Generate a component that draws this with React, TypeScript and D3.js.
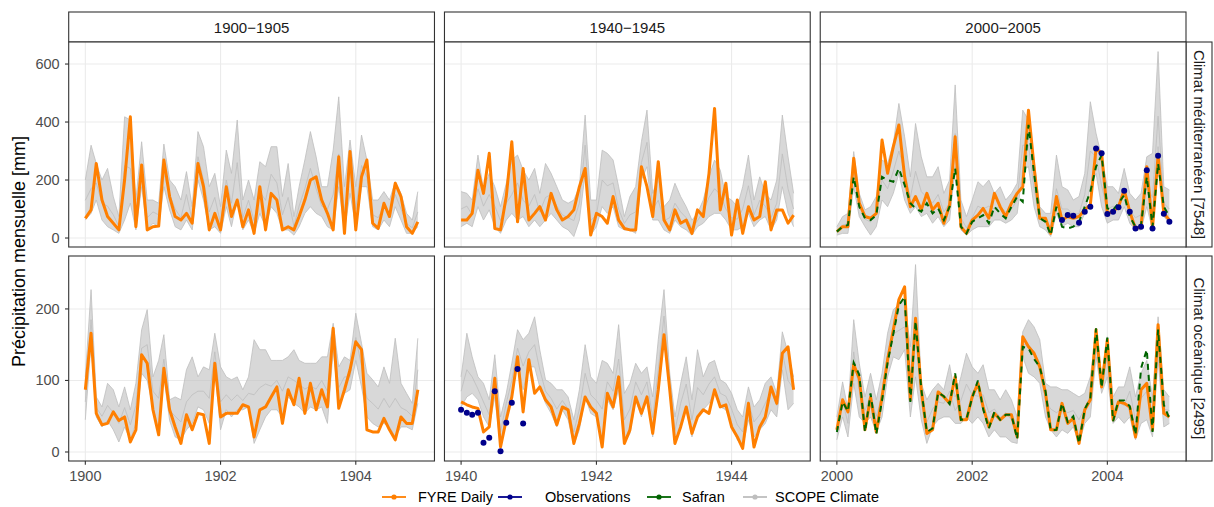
import * as d3 from "d3";

// facets
const startYears = [1900, 1940, 2000];
const periodLabels = ["1900−1905", "1940−1945", "2000−2005"];
const climateLabels = ["Climat méditerranéen [7548]", "Climat océanique [2495]"];
const yTicksTop = [0, 200, 400, 600];
const yTicksBottom = [0, 100, 200];
const legendLabels = ["FYRE Daily", "Observations", "Safran", "SCOPE Climate"];

// monthly values, Jan of first year -> Dec of fifth year
const fyreMed1900 = [68,97,257,131,74,51,28,200,418,39,252,28,39,41,269,143,74,62,85,51,257,177,28,85,28,177,74,131,39,97,16,177,28,154,131,28,39,28,74,131,200,211,131,85,28,280,16,298,28,211,269,51,33,120,74,189,143,39,16,56];
const scopeHiMed1900 = [200,320,257,200,240,143,74,418,407,131,332,131,131,120,324,200,177,131,229,108,367,315,177,223,108,303,223,407,131,200,131,263,246,315,315,143,257,74,177,269,367,280,177,177,303,487,177,338,177,355,269,131,131,160,131,194,154,85,62,160];
const scopeMidMed1900 = [130,170,190,120,110,80,40,250,240,80,230,70,90,80,220,150,100,70,150,60,280,200,90,140,50,200,120,260,70,130,60,160,130,220,190,80,140,40,110,170,240,170,110,100,150,290,90,230,100,250,210,80,70,110,80,150,100,50,35,90];
const scopeLoMed1900 = [62,85,131,62,39,28,16,62,120,28,177,28,51,39,177,97,39,28,62,28,200,131,28,39,16,108,39,131,28,62,16,85,39,108,85,28,28,10,39,85,108,85,74,39,28,177,28,154,39,177,177,39,28,62,39,108,62,16,16,39];

const fyreMed1940 = [62,62,85,234,154,292,33,28,143,332,56,240,62,85,108,62,154,97,62,74,97,177,240,10,85,74,51,143,62,33,28,28,246,177,74,263,62,28,97,51,62,16,97,74,223,447,97,189,10,131,16,108,62,74,194,28,97,97,51,79];
const scopeHiMed1940 = [160,154,131,286,166,223,177,108,189,269,286,234,200,240,154,257,223,177,131,120,131,177,424,131,131,303,292,269,177,74,143,177,332,441,154,211,108,131,189,143,108,62,85,131,211,269,234,143,131,108,177,286,131,211,154,131,200,424,280,154];
const scopeMidMed1940 = [100,110,80,170,110,150,110,60,120,150,190,130,110,150,90,140,150,110,80,70,60,120,320,60,80,200,180,190,100,50,80,90,260,330,100,130,60,70,120,90,70,35,60,90,140,170,150,100,70,65,100,180,80,130,110,70,120,290,170,100];
const scopeLoMed1940 = [39,51,39,108,62,97,39,16,62,85,62,74,39,62,39,62,85,62,39,28,5,62,223,10,39,108,85,108,39,28,28,16,200,246,62,62,28,16,62,39,28,10,39,51,74,85,85,62,28,28,39,85,39,62,74,28,62,177,85,39];

const fyreMed2000 = [22,39,39,275,120,74,68,85,338,223,315,390,211,108,143,97,154,97,120,51,114,349,39,16,62,79,102,68,154,108,74,120,154,177,441,246,68,68,16,143,62,74,68,74,97,114,309,292,85,91,108,166,91,33,39,246,33,286,85,62];
const safranMed2000 = [22,39,45,211,108,68,62,79,211,200,194,240,183,120,102,91,120,85,102,62,108,240,39,16,56,68,79,51,108,85,68,108,143,125,390,223,68,56,10,108,39,33,39,56,108,160,246,286,102,97,120,148,74,39,45,211,39,257,108,74];
const obsMed2000 = [62,79,77,53,91,108,309,292,83,91,106,163,91,33,39,234,33,284,84,56]; // from month 40
const scopeHiMed2000 = [39,74,85,298,154,97,108,143,269,257,326,464,349,211,395,280,211,211,246,154,200,528,131,74,131,194,177,200,154,177,131,154,189,441,407,269,108,85,85,286,177,166,131,143,223,470,361,280,177,177,154,240,154,131,154,280,292,643,177,166];
const scopeMidMed2000 = [25,45,50,230,110,65,55,90,200,170,230,300,230,140,230,160,140,120,150,90,120,360,70,35,70,110,100,110,100,110,90,100,130,320,320,170,70,55,40,170,100,100,80,85,150,300,280,180,100,110,100,160,95,70,80,180,140,420,120,100];
const scopeLoMed2000 = [10,16,16,177,74,39,10,39,131,108,154,223,131,85,108,74,85,51,74,39,62,246,28,10,28,39,39,39,62,62,51,62,85,234,246,108,39,28,5,85,39,51,39,39,85,177,223,108,51,62,62,108,51,28,28,108,28,315,74,51];

const fyreOce1900 = [87,166,54,38,40,56,44,49,14,31,136,124,59,24,117,59,35,12,52,31,54,52,12,124,49,54,54,54,66,63,21,59,63,77,91,40,87,66,103,54,96,59,87,63,173,61,87,115,154,143,31,28,28,47,31,17,49,40,40,87];
const scopeHiOce1900 = [105,227,77,63,96,87,63,91,59,96,171,199,105,128,164,73,77,73,115,133,105,119,115,166,119,105,101,105,87,105,157,143,143,128,128,128,133,143,128,124,124,124,133,133,180,119,133,128,194,152,110,101,91,119,96,159,96,82,68,159];
const scopeMidOce1900 = [70,185,62,50,65,55,40,62,38,65,145,150,85,75,130,58,50,42,70,80,85,85,75,140,70,80,72,80,72,82,80,90,95,92,100,85,105,100,95,88,92,88,100,85,160,90,105,105,160,120,75,68,60,75,62,75,62,58,50,115];
const scopeLoOce1900 = [45,152,49,35,44,31,14,35,17,40,110,100,63,28,105,44,21,17,31,40,63,59,40,115,31,59,49,59,59,63,12,31,49,59,59,49,77,68,63,54,63,59,63,40,143,68,82,87,128,91,49,40,35,40,35,21,35,35,31,68];

const fyreOce1940 = [70,66,63,61,28,35,103,7,45,77,133,56,129,82,91,73,63,38,63,59,12,40,77,63,54,7,82,63,105,12,31,77,54,77,26,87,164,87,12,35,63,26,49,59,54,87,63,66,35,21,5,68,7,35,49,91,68,138,147,87];
const obsOce1940 = [59,55,52,55,13,20,85,1,41,69,116,40]; // from month 0
const scopeHiOce1940 = [105,166,133,105,96,73,136,49,82,124,171,157,166,189,143,101,96,87,87,77,45,87,150,105,96,128,124,110,178,82,96,124,110,119,77,157,227,110,49,96,133,73,143,105,124,128,101,96,82,59,49,91,63,73,96,105,82,168,138,105];
const scopeMidOce1940 = [85,115,105,88,70,52,105,28,68,100,145,120,140,150,115,85,75,60,72,60,28,60,110,80,72,60,98,85,130,45,60,98,80,98,48,115,190,95,30,68,95,45,90,80,95,105,82,78,60,38,28,70,42,52,68,85,65,140,100,88];
const scopeLoOce1940 = [63,77,82,73,49,35,77,7,54,82,124,87,119,119,91,68,54,35,59,45,10,31,77,54,49,12,73,59,87,12,26,73,49,77,21,82,157,82,10,40,59,21,49,59,68,82,63,59,40,17,7,45,21,31,40,59,49,115,59,68];

const fyreOce2000 = [31,73,56,122,103,31,77,28,77,129,171,213,231,73,187,87,26,31,84,77,68,105,45,45,77,96,63,35,54,45,52,52,21,161,147,138,119,82,31,31,68,40,47,12,59,73,171,91,157,45,70,68,63,21,87,96,31,178,54,49];
const safranOce2000 = [28,70,57,125,108,28,82,25,72,125,165,205,217,70,183,88,28,33,83,78,67,110,45,46,76,100,60,33,56,45,52,52,18,147,145,130,119,85,30,31,68,42,50,12,60,75,173,90,160,43,72,72,64,24,117,143,28,171,66,47];
const scopeHiOce2000 = [49,98,59,185,124,77,110,73,110,166,199,206,213,147,262,96,73,87,96,87,122,77,105,138,119,110,122,87,87,73,87,73,49,168,185,175,157,96,91,91,87,87,82,77,82,105,166,105,161,77,91,91,119,77,110,128,77,189,87,77];
const scopeMidOce2000 = [32,72,40,140,85,58,80,50,80,135,165,170,175,100,180,70,42,60,70,68,85,58,72,95,80,78,80,55,60,48,55,45,30,150,150,140,125,72,60,55,60,55,58,45,62,78,150,95,135,58,70,65,85,45,75,85,48,160,60,58];
const scopeLoOce2000 = [17,49,21,96,49,40,49,28,49,105,133,129,143,49,105,45,12,35,45,49,49,40,40,49,40,49,40,21,31,21,21,14,12,133,110,105,96,49,31,21,31,26,35,12,40,49,133,82,105,40,49,40,49,17,40,45,21,129,35,40];

type Panel = {
  fyre: number[];
  hi: number[];
  mid: number[];
  lo: number[];
  safran?: number[];
  obs?: number[];
  obsStart?: number;
};

const panels: Panel[][] = [
  [
    { fyre: fyreMed1900, hi: scopeHiMed1900, mid: scopeMidMed1900, lo: scopeLoMed1900 },
    { fyre: fyreMed1940, hi: scopeHiMed1940, mid: scopeMidMed1940, lo: scopeLoMed1940 },
    { fyre: fyreMed2000, hi: scopeHiMed2000, mid: scopeMidMed2000, lo: scopeLoMed2000, safran: safranMed2000, obs: obsMed2000, obsStart: 40 },
  ],
  [
    { fyre: fyreOce1900, hi: scopeHiOce1900, mid: scopeMidOce1900, lo: scopeLoOce1900 },
    { fyre: fyreOce1940, hi: scopeHiOce1940, mid: scopeMidOce1940, lo: scopeLoOce1940, obs: obsOce1940, obsStart: 0 },
    { fyre: fyreOce2000, hi: scopeHiOce2000, mid: scopeMidOce2000, lo: scopeLoOce2000, safran: safranOce2000 },
  ],
];

const ORANGE = "#FF7F00";
const NAVY = "#00008B";
const GREEN = "#006400";
const GREY = "#BEBEBE";
const FONT = "'Liberation Sans', Arial, Helvetica, sans-serif";

const W = 1214;
const H = 507;
const plotLeft = 68.7;
const plotRight = 1186;
const gapX = 10;
const panelW = (plotRight - plotLeft - 2 * gapX) / 3;
const rowTops = [42, 256];
const panelH = 205;

const yScales = [
  d3.scaleLinear().domain([-31, 676]).range([rowTops[0] + panelH, rowTops[0]]),
  d3.scaleLinear().domain([-12.6, 274]).range([rowTops[1] + panelH, rowTops[1]]),
];
const yTicks = [yTicksTop, yTicksBottom];

function monthDate(y0: number, i: number) {
  return new Date(Date.UTC(y0 + Math.floor(i / 12), i % 12, 1));
}

function xScaleFor(col: number) {
  const y0 = startYears[col];
  const first = monthDate(y0, 0).getTime();
  const last = monthDate(y0, 59).getTime();
  const pad = (last - first) * 0.05;
  const left = plotLeft + col * (panelW + gapX);
  return d3
    .scaleUtc()
    .domain([new Date(first - pad), new Date(last + pad)])
    .range([left, left + panelW]);
}

function PanelView({ row, col }: { row: number; col: number }) {
  const p = panels[row][col];
  const x = xScaleFor(col);
  const y = yScales[row];
  const y0 = startYears[col];
  const left = plotLeft + col * (panelW + gapX);
  const top = rowTops[row];
  const xTicks = x.ticks(d3.utcYear.every(2)!);

  const line = d3
    .line<number>()
    .x((_, i) => x(monthDate(y0, i)))
    .y((d) => y(d));
  // envelope of the SCOPE members
  const band = d3
    .area<number>()
    .x((_, i) => x(monthDate(y0, i)))
    .y0((_, i) => y(p.lo[i]))
    .y1((d) => y(d));

  const clipId = `clip-${row}-${col}`;
  return (
    <g>
      <clipPath id={clipId}>
        <rect x={left} y={top} width={panelW} height={panelH} />
      </clipPath>
      <rect x={left} y={top} width={panelW} height={panelH} fill="white" />
      {yTicks[row].map((t) => (
        <line key={"gy" + t} x1={left} x2={left + panelW} y1={y(t)} y2={y(t)} stroke="#EBEBEB" strokeWidth={1.1} />
      ))}
      {xTicks.map((t) => (
        <line key={"gx" + t.getTime()} x1={x(t)} x2={x(t)} y1={top} y2={top + panelH} stroke="#EBEBEB" strokeWidth={1.1} />
      ))}
      <g clipPath={`url(#${clipId})`}>
        <path d={band(p.hi) ?? ""} fill={GREY} fillOpacity={0.6} stroke="none" />
        {[p.hi, p.mid, p.lo].map((s, k) => (
          <path key={k} d={line(s) ?? ""} fill="none" stroke={GREY} strokeWidth={0.8} />
        ))}
        <path d={line(p.fyre) ?? ""} fill="none" stroke={ORANGE} strokeWidth={3} strokeLinejoin="round" />
        {p.safran && (
          <path d={line(p.safran) ?? ""} fill="none" stroke={GREEN} strokeWidth={2} strokeDasharray="6,5" />
        )}
        {p.obs &&
          p.obs.map((v, k) => (
            <circle key={k} cx={x(monthDate(y0, (p.obsStart ?? 0) + k))} cy={y(v)} r={3} fill={NAVY} />
          ))}
      </g>
      <rect x={left} y={top} width={panelW} height={panelH} fill="none" stroke="#333333" strokeWidth={1.1} />
      {row === 1 &&
        xTicks.map((t) => (
          <g key={"xt" + t.getTime()}>
            <line x1={x(t)} x2={x(t)} y1={top + panelH} y2={top + panelH + 3.7} stroke="#333333" strokeWidth={1.1} />
            <text x={x(t)} y={top + panelH + 15} textAnchor="middle" dominantBaseline="central" fontSize={14.5} fill="#4D4D4D">
              {d3.utcFormat("%Y")(t)}
            </text>
          </g>
        ))}
      {col === 0 &&
        yTicks[row].map((t) => (
          <g key={"yt" + t}>
            <line x1={left - 3.7} x2={left} y1={y(t)} y2={y(t)} stroke="#333333" strokeWidth={1.1} />
            <text x={left - 9} y={y(t)} textAnchor="end" dominantBaseline="central" fontSize={14.5} fill="#4D4D4D">
              {t}
            </text>
          </g>
        ))}
    </g>
  );
}

export default function App() {
  const legendKeys = [
    { x: 382, tx: 418, color: ORANGE },
    { x: 498, tx: 545, color: NAVY },
    { x: 647, tx: 682, color: GREEN },
    { x: 743, tx: 775, color: GREY },
  ];
  const ly = 497;
  return (
    <svg
      width={W}
      height={H}
      viewBox={`0 0 ${W} ${H}`}
      style={{ position: "absolute", left: 0, top: 0, background: "white", fontFamily: FONT }}
    >
      {periodLabels.map((lab, col) => {
        const left = plotLeft + col * (panelW + gapX);
        return (
          <g key={lab}>
            <rect x={left} y={12} width={panelW} height={30} fill="white" stroke="#333333" strokeWidth={1.1} />
            <text x={left + panelW / 2} y={27} textAnchor="middle" dominantBaseline="central" fontSize={15} fill="#1A1A1A">
              {lab}
            </text>
          </g>
        );
      })}
      {climateLabels.map((lab, row) => (
        <g key={lab}>
          <rect x={plotRight} y={rowTops[row]} width={26} height={panelH} fill="white" stroke="#333333" strokeWidth={1.1} />
          <text
            transform={`translate(${plotRight + 13},${rowTops[row] + panelH / 2}) rotate(90)`}
            textAnchor="middle"
            dominantBaseline="central"
            fontSize={15}
            fill="#1A1A1A"
          >
            {lab}
          </text>
        </g>
      ))}
      {[0, 1].map((row) => [0, 1, 2].map((col) => <PanelView key={`${row}-${col}`} row={row} col={col} />))}
      <text
        transform={`translate(19,${(rowTops[0] + rowTops[1] + panelH) / 2}) rotate(-90)`}
        textAnchor="middle"
        dominantBaseline="central"
        fontSize={18}
        fill="#000"
      >
        Précipitation mensuelle [mm]
      </text>
      {legendKeys.map((k, i) => (
        <g key={legendLabels[i]}>
          <line x1={k.x} x2={k.x + 24} y1={ly} y2={ly} stroke={k.color} strokeWidth={1.8} />
          <circle cx={k.x + 12} cy={ly} r={2.6} fill={k.color} />
          <text x={k.tx} y={ly} dominantBaseline="central" fontSize={14.5} fill="#000">
            {legendLabels[i]}
          </text>
        </g>
      ))}
    </svg>
  );
}
